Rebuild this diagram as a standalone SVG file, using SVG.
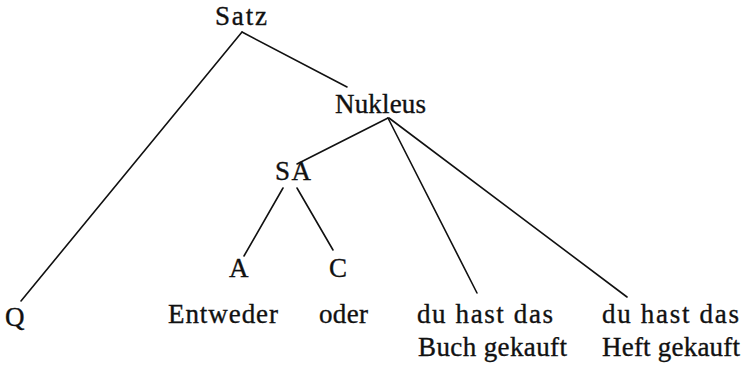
<svg xmlns="http://www.w3.org/2000/svg" width="745" height="367" viewBox="0 0 745 367">
  <style>
    .lbl { font-family: "Liberation Serif", "DejaVu Serif", serif; font-size: 27px; fill: #111; stroke: #111; stroke-width: 0.35; }
    .edge { stroke: #111; stroke-width: 1.6; fill: none; stroke-linecap: round; }
  </style>
  <rect width="745" height="367" fill="#ffffff"/>
  <!-- tree edges -->
  <g id="connectors">
    <line class="edge" x1="242" y1="32" x2="21" y2="301"/>
    <line class="edge" x1="242" y1="32" x2="347" y2="87"/>
    <line class="edge" x1="388" y1="118" x2="297" y2="164"/>
    <line class="edge" x1="388" y1="118" x2="477" y2="293"/>
    <line class="edge" x1="389" y1="118" x2="627" y2="297"/>
    <line class="edge" x1="283" y1="188" x2="244" y2="256"/>
    <line class="edge" x1="297" y1="188" x2="333" y2="250"/>
  </g>
  <g id="satz"><text class="lbl" x="215" y="25" textLength="52" lengthAdjust="spacing">Satz</text></g>
  <g id="nukleus"><text class="lbl" x="335" y="113" textLength="91" lengthAdjust="spacing">Nukleus</text></g>
  <g id="sa"><text class="lbl" x="275" y="180" textLength="36" lengthAdjust="spacing">SA</text></g>
  <g id="a"><text class="lbl" x="229" y="277">A</text></g>
  <g id="c"><text class="lbl" x="329" y="277">C</text></g>
  <g id="q"><text class="lbl" x="5" y="326">Q</text></g>
  <g id="entweder"><text class="lbl" x="168" y="323" textLength="110" lengthAdjust="spacing">Entweder</text></g>
  <g id="oder"><text class="lbl" x="319" y="323" textLength="49" lengthAdjust="spacing">oder</text></g>
  <g id="buch">
    <text class="lbl" x="417" y="323" textLength="136" lengthAdjust="spacing">du hast das</text>
    <text class="lbl" x="418" y="356" textLength="149" lengthAdjust="spacing">Buch gekauft</text>
  </g>
  <g id="heft">
    <text class="lbl" x="602" y="323" textLength="137" lengthAdjust="spacing">du hast das</text>
    <text class="lbl" x="602" y="356" textLength="138" lengthAdjust="spacing">Heft gekauft</text>
  </g>
</svg>
